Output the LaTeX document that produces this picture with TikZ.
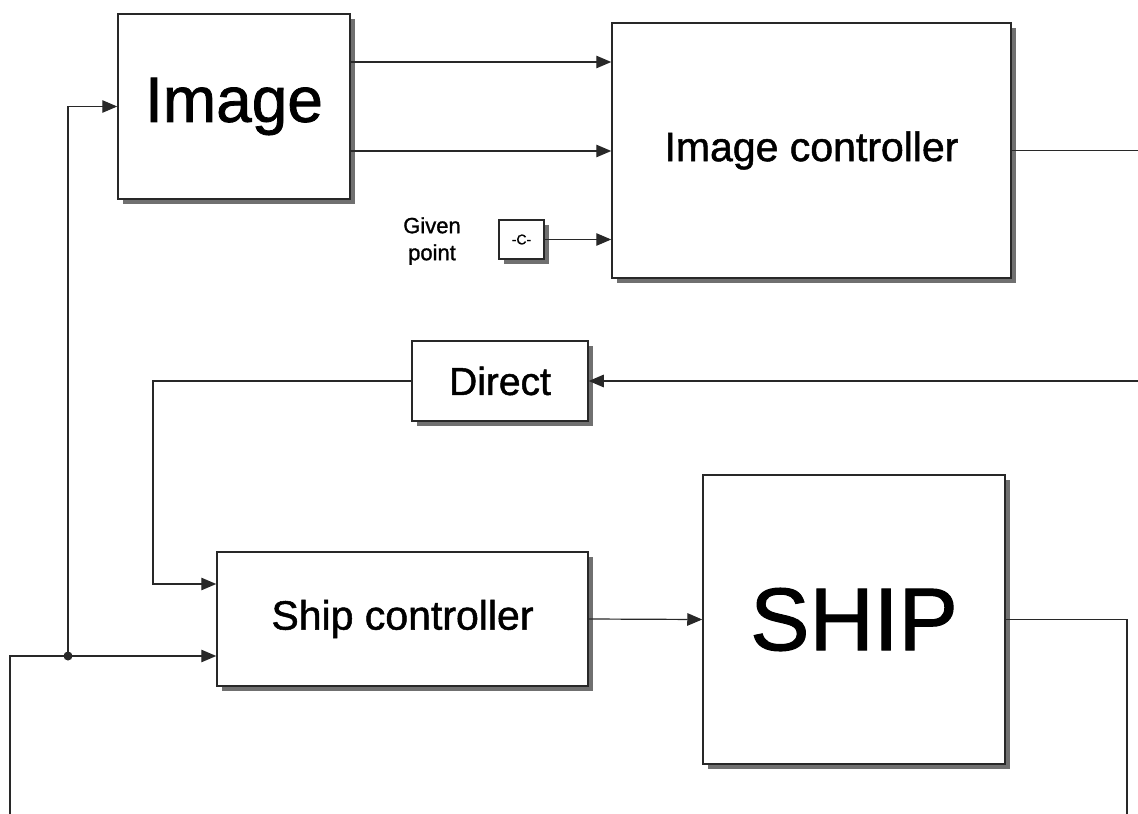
\documentclass[tikz,border=0pt]{standalone}
\usepackage{fontspec}
\setmainfont{Liberation Sans}[FakeBold=1.2]
\usetikzlibrary{arrows.meta, shadows}
\definecolor{wire}{RGB}{40, 40, 40}

\begin{document}
\begin{tikzpicture}[x=1pt, y=-1pt,
        block/.style={draw=wire, line width=1.5pt, fill=white, rectangle, inner sep=0pt,
            drop shadow={shadow xshift=4.5pt, shadow yshift=-4.5pt, fill=black!80, opacity=0.7}},
        arr/.style={draw=wire, line width=1.2pt, -{Triangle[length=15pt, width=12.5pt]}},
        wireline/.style={draw=wire, line width=1.2pt}]
                    \useasboundingbox (0,0) rectangle (1138,814);
                    \node[block, minimum width=232pt, minimum height=185pt, font=\fontsize{64}{70}\selectfont] (img) at (234,106.5) {Image};
                    \node[block, minimum width=399pt, minimum height=255pt, font=\fontsize{41}{46}\selectfont] (imgctrl) at (811.5,150.5) {Image controller};
                    \node[block, minimum width=45pt, minimum height=39pt, line width=1.2pt, font=\fontsize{14}{16}\selectfont] (const) at (521.5,239.5) {-C-};
                    \node[align=center, font=\fontsize{22}{27}\selectfont] (given) at (432,241) {Given\\point};
                    \node[block, minimum width=176pt, minimum height=80pt, font=\fontsize{39}{44}\selectfont] (direct) at (500,381) {Direct};
                    \node[block, minimum width=371pt, minimum height=134pt, font=\fontsize{41}{46}\selectfont] (shipctrl) at (402.5,619) {Ship controller};
                    \node[block, minimum width=302pt, minimum height=289pt, font=\fontsize{89}{96}\selectfont] (ship) at (854,619.5) {SHIP};
                    % loose ends at the page border
                    \coordinate (outA) at (1138,150.5);
                    \coordinate (inA) at (1138,381);
                    \coordinate (fbR) at (1127,814);
                    \coordinate (fbL) at (10,814);
                    \coordinate (junc) at (68,656);
                    \draw[arr] (img.east |- 0,62) -- (imgctrl.west |- 0,62);
                    \draw[arr] (img.east |- 0,151) -- (imgctrl.west |- 0,151);
                    \draw[arr] (const) -- (const -| imgctrl.west);
                    \draw[wireline] (imgctrl.east) -- (outA);
                    \draw[arr] (inA) -- (direct.east);
                    \draw[arr] (direct.west) -| (153,584) -- (shipctrl.west |- 0,584);
                    \draw[arr] (shipctrl.east) -- (ship.west);
                    \draw[wireline] (ship.east) -| (fbR);
                    \draw[arr] (fbL) |- (shipctrl.west |- 0,656);
                    \draw[arr] (junc) |- (img.west);
                    \fill[wire] (junc) circle (4.5pt);
                \end{tikzpicture}
\end{document}
